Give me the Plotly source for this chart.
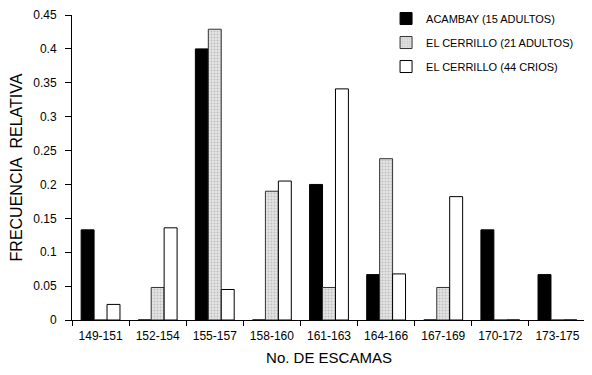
import plotly.graph_objects as go

categories = ["149-151", "152-154", "155-157", "158-160", "161-163",
              "164-166", "167-169", "170-172", "173-175"]
acambay = [0.133, 0, 0.4, 0, 0.2, 0.067, 0, 0.133, 0.067]
cerrillo_adultos = [0, 0.048, 0.429, 0.19, 0.048, 0.238, 0.048, 0, 0]
cerrillo_crios = [0.023, 0.136, 0.045, 0.205, 0.341, 0.068, 0.182, 0, 0]
series_names = ["ACAMBAY (15 ADULTOS)", "EL CERRILLO (21 ADULTOS)", "EL CERRILLO (44 CRIOS)"]

font = "Liberation Sans, Arial, sans-serif"

fig = go.Figure()
fig.add_trace(go.Bar(x=categories, y=acambay, name=series_names[0], legendgroup="a",
                     marker=dict(color="black", line=dict(color="black", width=1))))
fig.add_trace(go.Bar(x=categories, y=cerrillo_adultos, name=series_names[1], legendgroup="b",
                     marker=dict(color="#e4e4e4", line=dict(color="#333", width=1),
                                 pattern=dict(shape=".", fgcolor="#9a9a9a", bgcolor="#e4e4e4",
                                              size=3, solidity=0.35))))
fig.add_trace(go.Bar(x=categories, y=cerrillo_crios, name=series_names[2], legendgroup="c",
                     marker=dict(color="white", line=dict(color="black", width=1))))

fig.update_layout(
    width=584, height=367,
    margin=dict(l=64, r=6, t=7, b=55, autoexpand=False),
    paper_bgcolor="white", plot_bgcolor="white",
    barmode="group", bargap=0.32, bargroupgap=0,
    font=dict(family=font, size=12, color="black"),
    legend=dict(x=0.611, y=1.036, xanchor="left", yanchor="top",
                font=dict(size=11), bgcolor="rgba(0,0,0,0)", tracegroupgap=5,
                itemwidth=30),
    showlegend=True,
)
fig.update_xaxes(
    showline=True, linecolor="black", linewidth=1,
    ticks="outside", tickson="boundaries", ticklen=5, tickcolor="black",
    ticklabelstandoff=5,
    title=dict(text="No. DE ESCAMAS", font=dict(size=15), standoff=10),
    tickfont=dict(size=12), showgrid=False,
)
fig.update_yaxes(
    range=[0, 0.45], dtick=0.05, tick0=0,
    showline=True, linecolor="black", linewidth=1,
    ticks="outside", ticklen=6, tickcolor="black",
    ticklabelstandoff=6,
    title=dict(text="FRECUENCIA\u00a0 RELATIVA", font=dict(size=16), standoff=8),
    tickfont=dict(size=12), showgrid=False, zeroline=False,
)

fig.write_html("out.html")
